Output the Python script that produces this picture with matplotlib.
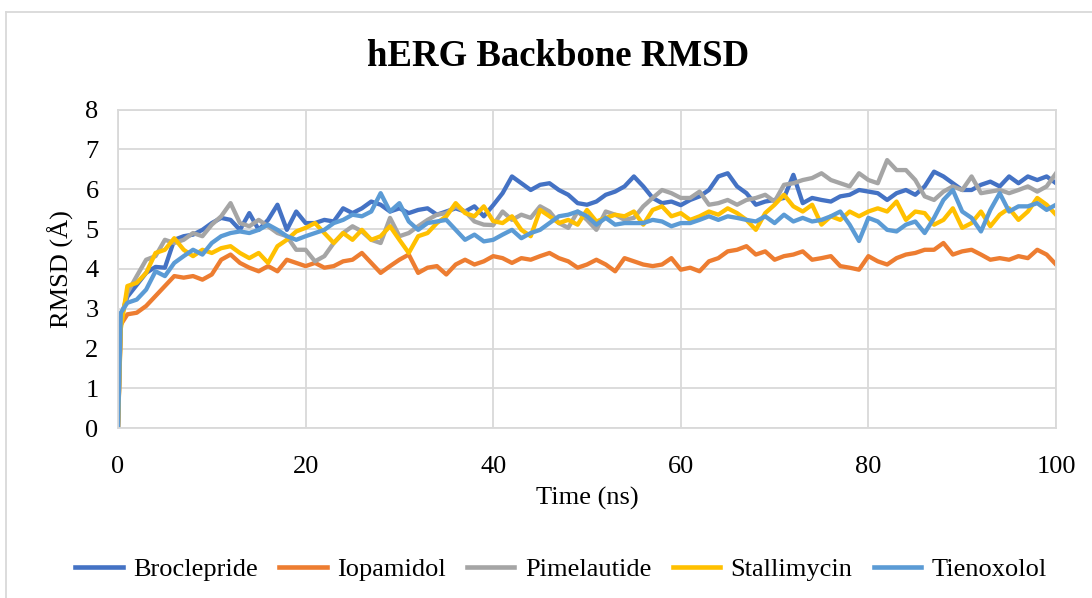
import numpy as np
import matplotlib.pyplot as plt
from matplotlib.lines import Line2D

plt.rcParams['font.family'] = ['Liberation Serif', 'DejaVu Serif']

# time axis (ns): start, first frame, then every 1 ns
time_ns = [0, 0.3] + list(range(1, 101))

broclepride = [0, 2.8,
    3.30, 3.60, 3.90, 4.05, 4.03, 4.73, 4.82, 4.86, 4.98, 5.15, 5.28, 5.23, 4.98, 5.40, 4.98, 5.23, 5.61, 4.98, 5.44, 5.15,
    5.15, 5.23, 5.19, 5.52, 5.40, 5.52, 5.69, 5.61, 5.44, 5.52, 5.40, 5.48, 5.52, 5.36, 5.44, 5.52, 5.44, 5.57, 5.32, 5.60,
    5.90, 6.32, 6.15, 5.98, 6.11, 6.15, 5.98, 5.86, 5.65, 5.61, 5.69, 5.86, 5.94, 6.07, 6.32, 6.07, 5.78, 5.65, 5.69, 5.60,
    5.73, 5.82, 5.98, 6.32, 6.40, 6.07, 5.90, 5.61, 5.69, 5.73, 5.78, 6.36, 5.65, 5.78, 5.73, 5.69, 5.82, 5.86, 5.98, 5.94,
    5.90, 5.73, 5.90, 5.98, 5.86, 6.07, 6.44, 6.32, 6.15, 5.98, 5.98, 6.11, 6.19, 6.07, 6.32, 6.15, 6.32, 6.23, 6.32, 6.15]

iopamidol = [0, 2.6,
    2.86, 2.90, 3.07, 3.32, 3.57, 3.82, 3.78, 3.82, 3.73, 3.86, 4.23, 4.36, 4.15, 4.03, 3.94, 4.07, 3.94, 4.23, 4.15, 4.07,
    4.15, 4.03, 4.07, 4.19, 4.23, 4.40, 4.15, 3.90, 4.07, 4.23, 4.36, 3.90, 4.03, 4.07, 3.86, 4.11, 4.23, 4.11, 4.19, 4.32,
    4.27, 4.15, 4.27, 4.23, 4.32, 4.40, 4.27, 4.19, 4.03, 4.11, 4.23, 4.11, 3.94, 4.27, 4.19, 4.11, 4.07, 4.11, 4.27, 3.98,
    4.03, 3.94, 4.19, 4.27, 4.44, 4.48, 4.57, 4.36, 4.44, 4.23, 4.32, 4.36, 4.44, 4.23, 4.27, 4.32, 4.07, 4.03, 3.98, 4.32,
    4.19, 4.11, 4.27, 4.36, 4.40, 4.48, 4.48, 4.65, 4.36, 4.44, 4.48, 4.36, 4.23, 4.27, 4.23, 4.32, 4.27, 4.48, 4.36, 4.11]

pimelautide = [0, 2.7,
    3.40, 3.82, 4.23, 4.32, 4.73, 4.65, 4.73, 4.90, 4.82, 5.11, 5.32, 5.65, 5.15, 5.07, 5.23, 5.07, 4.90, 4.82, 4.48, 4.48,
    4.19, 4.32, 4.65, 4.90, 5.07, 4.94, 4.73, 4.65, 5.28, 4.82, 4.90, 5.07, 5.23, 5.36, 5.40, 5.57, 5.44, 5.19, 5.11, 5.10,
    5.44, 5.23, 5.36, 5.28, 5.57, 5.44, 5.15, 5.03, 5.44, 5.23, 4.98, 5.44, 5.36, 5.23, 5.28, 5.57, 5.78, 5.98, 5.90, 5.78,
    5.78, 5.94, 5.61, 5.65, 5.73, 5.61, 5.73, 5.78, 5.86, 5.69, 6.11, 6.15, 6.23, 6.28, 6.40, 6.23, 6.15, 6.07, 6.40, 6.23,
    6.15, 6.73, 6.48, 6.48, 6.23, 5.82, 5.73, 5.94, 6.07, 5.98, 6.32, 5.90, 5.94, 5.98, 5.90, 5.98, 6.07, 5.94, 6.07, 6.40]

stallimycin = [0, 2.5,
    3.57, 3.65, 3.90, 4.40, 4.48, 4.77, 4.48, 4.32, 4.48, 4.40, 4.52, 4.57, 4.40, 4.27, 4.40, 4.15, 4.57, 4.73, 4.94, 5.03,
    5.15, 4.90, 4.65, 4.90, 4.73, 4.98, 4.73, 4.82, 5.07, 4.73, 4.40, 4.82, 4.90, 5.15, 5.32, 5.65, 5.40, 5.32, 5.57, 5.20,
    5.15, 5.32, 4.98, 4.82, 5.48, 5.32, 5.15, 5.23, 5.11, 5.48, 5.19, 5.28, 5.36, 5.32, 5.44, 5.11, 5.48, 5.57, 5.32, 5.40,
    5.23, 5.32, 5.44, 5.36, 5.52, 5.40, 5.23, 4.98, 5.40, 5.61, 5.86, 5.57, 5.44, 5.61, 5.11, 5.32, 5.23, 5.44, 5.32, 5.44,
    5.52, 5.44, 5.69, 5.23, 5.44, 5.40, 5.11, 5.23, 5.52, 5.03, 5.15, 5.44, 5.07, 5.36, 5.52, 5.23, 5.44, 5.78, 5.61, 5.36]

tienoxolol = [0, 2.9,
    3.15, 3.23, 3.48, 3.94, 3.82, 4.15, 4.32, 4.48, 4.36, 4.65, 4.82, 4.90, 4.94, 4.90, 4.98, 5.11, 4.98, 4.82, 4.73, 4.82,
    4.90, 4.98, 5.15, 5.23, 5.36, 5.32, 5.44, 5.90, 5.44, 5.65, 5.19, 4.98, 5.15, 5.19, 5.23, 4.98, 4.73, 4.86, 4.69, 4.73,
    4.86, 4.98, 4.77, 4.90, 4.98, 5.15, 5.32, 5.36, 5.44, 5.32, 5.11, 5.28, 5.11, 5.15, 5.15, 5.15, 5.23, 5.19, 5.07, 5.15,
    5.15, 5.23, 5.32, 5.23, 5.32, 5.28, 5.23, 5.19, 5.32, 5.15, 5.36, 5.19, 5.28, 5.19, 5.23, 5.32, 5.44, 5.11, 4.70, 5.28,
    5.19, 4.98, 4.94, 5.11, 5.19, 4.90, 5.28, 5.73, 5.98, 5.44, 5.28, 4.94, 5.48, 5.90, 5.44, 5.57, 5.57, 5.65, 5.48, 5.61]

names = ['Broclepride', 'Iopamidol', 'Pimelautide', 'Stallimycin', 'Tienoxolol']
colors = ['#4472C4', '#ED7D31', '#A5A5A5', '#FFC000', '#5B9BD5']
series = [broclepride, iopamidol, pimelautide, stallimycin, tienoxolol]

fig = plt.figure(figsize=(10.92, 5.98), dpi=100)
ax = fig.add_axes([118/1092, 1-428.3/598, (1056-118)/1092, (428.3-109.5)/598])

grid_c = '#D9D9D9'
for name, c, vals in zip(names, colors, series):
    ax.plot(time_ns, vals, color=c, lw=3.1, label=name, solid_joinstyle='round')

ax.set_xlim(0, 100)
ax.set_ylim(0, 8)
ax.set_xticks(range(0, 101, 20))
ax.set_yticks(range(0, 9))
ax.grid(True, color=grid_c, lw=1.3)
ax.set_axisbelow(True)
for s in ax.spines.values():
    s.set_color(grid_c)
    s.set_linewidth(1.3)
ax.tick_params(length=0, labelsize=19)
ax.tick_params(axis='x', pad=20)
ax.tick_params(axis='y', pad=14)
ax.set_xlabel('Time (ns)', fontsize=19, labelpad=6)
ax.set_ylabel('RMSD (Å)', fontsize=19, labelpad=8)

fig.text(558/1092, 1-57/598, 'hERG Backbone RMSD', fontsize=26.5, fontweight='bold',
         ha='center', va='center')

handles = [Line2D([0], [0], color=c, lw=3.3) for c in colors]
fig.legend(handles, names, loc='center', bbox_to_anchor=(561/1092, 1-569/598), ncol=5,
           frameon=False, fontsize=19, handlelength=1.8, handletextpad=0.4,
           columnspacing=0.8)

# chart area border (top and left edges visible)
fig.add_artist(Line2D([6/1092, 1], [1-12/598, 1-12/598], transform=fig.transFigure, color=grid_c, lw=1.3))
fig.add_artist(Line2D([6/1092, 6/1092], [0, 1-12/598], transform=fig.transFigure, color=grid_c, lw=1.3))

fig.savefig('out.png', dpi=100)
